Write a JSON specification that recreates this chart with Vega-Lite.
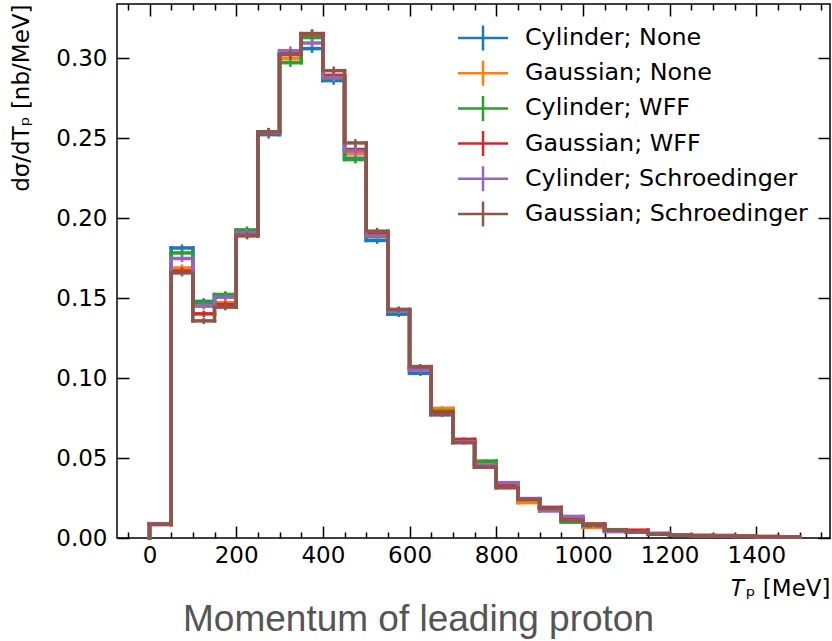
{
"$schema": "https://vega.github.io/schema/vega-lite/v6.json",
"width": 713, "height": 534,
"autosize": {"type": "none"},
"padding": {"left": 117, "top": 4, "right": 2, "bottom": 103},
"background": "white",
"config": {
 "font": "DejaVu Sans",
 "view": {"stroke": "black", "strokeWidth": 1.5},
 "axis": {"domain": false, "grid": false, "tickColor": "black", "tickWidth": 1.5, "labelColor": "black", "titleColor": "black", "labelFont": "DejaVu Sans", "titleFont": "DejaVu Sans", "labelFontSize": 23, "titleFontSize": 23, "titleFontWeight": "normal"},
 "legend": {"labelFont": "DejaVu Sans", "labelFontSize": 23.8, "labelColor": "black", "labelLimit": 0}
},
"title": {"text": "Momentum of leading proton", "orient": "bottom", "anchor": "start", "frame": "group", "dx": 66, "offset": 2, "font": "Liberation Sans", "fontSize": 37, "fontWeight": "normal", "color": "#555555"},
"data": {"values": [
{"s":"Cylinder; None","lo":0,"hi":50,"v":0.0085,"e":0.0008},
{"s":"Cylinder; None","lo":50,"hi":100,"v":0.1814,"e":0.0022},
{"s":"Cylinder; None","lo":100,"hi":150,"v":0.1480,"e":0.0020},
{"s":"Cylinder; None","lo":150,"hi":200,"v":0.1520,"e":0.0020},
{"s":"Cylinder; None","lo":200,"hi":250,"v":0.1920,"e":0.0022},
{"s":"Cylinder; None","lo":250,"hi":300,"v":0.2523,"e":0.0025},
{"s":"Cylinder; None","lo":300,"hi":350,"v":0.3025,"e":0.0027},
{"s":"Cylinder; None","lo":350,"hi":400,"v":0.3061,"e":0.0027},
{"s":"Cylinder; None","lo":400,"hi":450,"v":0.2861,"e":0.0026},
{"s":"Cylinder; None","lo":450,"hi":500,"v":0.2375,"e":0.0024},
{"s":"Cylinder; None","lo":500,"hi":550,"v":0.1861,"e":0.0021},
{"s":"Cylinder; None","lo":550,"hi":600,"v":0.1400,"e":0.0018},
{"s":"Cylinder; None","lo":600,"hi":650,"v":0.1030,"e":0.0016},
{"s":"Cylinder; None","lo":650,"hi":700,"v":0.0780,"e":0.0014},
{"s":"Cylinder; None","lo":700,"hi":750,"v":0.0605,"e":0.0012},
{"s":"Cylinder; None","lo":750,"hi":800,"v":0.0465,"e":0.0011},
{"s":"Cylinder; None","lo":800,"hi":850,"v":0.0330,"e":0.0009},
{"s":"Cylinder; None","lo":850,"hi":900,"v":0.0246,"e":0.0008},
{"s":"Cylinder; None","lo":900,"hi":950,"v":0.0190,"e":0.0007},
{"s":"Cylinder; None","lo":950,"hi":1000,"v":0.0120,"e":0.0006},
{"s":"Cylinder; None","lo":1000,"hi":1050,"v":0.0075,"e":0.0005},
{"s":"Cylinder; None","lo":1050,"hi":1100,"v":0.0050,"e":0.0004},
{"s":"Cylinder; None","lo":1100,"hi":1150,"v":0.0038,"e":0.0004},
{"s":"Cylinder; None","lo":1150,"hi":1200,"v":0.0025,"e":0.0003},
{"s":"Cylinder; None","lo":1200,"hi":1250,"v":0.0018,"e":0.0003},
{"s":"Cylinder; None","lo":1250,"hi":1300,"v":0.0015,"e":0.0002},
{"s":"Cylinder; None","lo":1300,"hi":1350,"v":0.0013,"e":0.0002},
{"s":"Cylinder; None","lo":1350,"hi":1400,"v":0.0011,"e":0.0002},
{"s":"Cylinder; None","lo":1400,"hi":1450,"v":0.0008,"e":0.0002},
{"s":"Cylinder; None","lo":1450,"hi":1500,"v":0.0006,"e":0.0001},
{"s":"Gaussian; None","lo":0,"hi":50,"v":0.0085,"e":0.0008},
{"s":"Gaussian; None","lo":50,"hi":100,"v":0.1689,"e":0.0022},
{"s":"Gaussian; None","lo":100,"hi":150,"v":0.1462,"e":0.0020},
{"s":"Gaussian; None","lo":150,"hi":200,"v":0.1472,"e":0.0020},
{"s":"Gaussian; None","lo":200,"hi":250,"v":0.1900,"e":0.0022},
{"s":"Gaussian; None","lo":250,"hi":300,"v":0.2535,"e":0.0025},
{"s":"Gaussian; None","lo":300,"hi":350,"v":0.2998,"e":0.0027},
{"s":"Gaussian; None","lo":350,"hi":400,"v":0.3135,"e":0.0027},
{"s":"Gaussian; None","lo":400,"hi":450,"v":0.2890,"e":0.0026},
{"s":"Gaussian; None","lo":450,"hi":500,"v":0.2402,"e":0.0024},
{"s":"Gaussian; None","lo":500,"hi":550,"v":0.1900,"e":0.0021},
{"s":"Gaussian; None","lo":550,"hi":600,"v":0.1425,"e":0.0018},
{"s":"Gaussian; None","lo":600,"hi":650,"v":0.1060,"e":0.0016},
{"s":"Gaussian; None","lo":650,"hi":700,"v":0.0811,"e":0.0014},
{"s":"Gaussian; None","lo":700,"hi":750,"v":0.0607,"e":0.0012},
{"s":"Gaussian; None","lo":750,"hi":800,"v":0.0460,"e":0.0011},
{"s":"Gaussian; None","lo":800,"hi":850,"v":0.0328,"e":0.0009},
{"s":"Gaussian; None","lo":850,"hi":900,"v":0.0221,"e":0.0008},
{"s":"Gaussian; None","lo":900,"hi":950,"v":0.0188,"e":0.0007},
{"s":"Gaussian; None","lo":950,"hi":1000,"v":0.0118,"e":0.0006},
{"s":"Gaussian; None","lo":1000,"hi":1050,"v":0.0066,"e":0.0005},
{"s":"Gaussian; None","lo":1050,"hi":1100,"v":0.0048,"e":0.0004},
{"s":"Gaussian; None","lo":1100,"hi":1150,"v":0.0037,"e":0.0004},
{"s":"Gaussian; None","lo":1150,"hi":1200,"v":0.0024,"e":0.0003},
{"s":"Gaussian; None","lo":1200,"hi":1250,"v":0.0020,"e":0.0003},
{"s":"Gaussian; None","lo":1250,"hi":1300,"v":0.0016,"e":0.0002},
{"s":"Gaussian; None","lo":1300,"hi":1350,"v":0.0012,"e":0.0002},
{"s":"Gaussian; None","lo":1350,"hi":1400,"v":0.0010,"e":0.0002},
{"s":"Gaussian; None","lo":1400,"hi":1450,"v":0.0008,"e":0.0002},
{"s":"Gaussian; None","lo":1450,"hi":1500,"v":0.0006,"e":0.0001},
{"s":"Cylinder; WFF","lo":0,"hi":50,"v":0.0086,"e":0.0008},
{"s":"Cylinder; WFF","lo":50,"hi":100,"v":0.1783,"e":0.0022},
{"s":"Cylinder; WFF","lo":100,"hi":150,"v":0.1472,"e":0.0020},
{"s":"Cylinder; WFF","lo":150,"hi":200,"v":0.1523,"e":0.0020},
{"s":"Cylinder; WFF","lo":200,"hi":250,"v":0.1927,"e":0.0022},
{"s":"Cylinder; WFF","lo":250,"hi":300,"v":0.2540,"e":0.0025},
{"s":"Cylinder; WFF","lo":300,"hi":350,"v":0.2973,"e":0.0027},
{"s":"Cylinder; WFF","lo":350,"hi":400,"v":0.3130,"e":0.0027},
{"s":"Cylinder; WFF","lo":400,"hi":450,"v":0.2875,"e":0.0026},
{"s":"Cylinder; WFF","lo":450,"hi":500,"v":0.2367,"e":0.0024},
{"s":"Cylinder; WFF","lo":500,"hi":550,"v":0.1885,"e":0.0021},
{"s":"Cylinder; WFF","lo":550,"hi":600,"v":0.1422,"e":0.0018},
{"s":"Cylinder; WFF","lo":600,"hi":650,"v":0.1058,"e":0.0016},
{"s":"Cylinder; WFF","lo":650,"hi":700,"v":0.0794,"e":0.0014},
{"s":"Cylinder; WFF","lo":700,"hi":750,"v":0.0603,"e":0.0012},
{"s":"Cylinder; WFF","lo":750,"hi":800,"v":0.0481,"e":0.0011},
{"s":"Cylinder; WFF","lo":800,"hi":850,"v":0.0332,"e":0.0009},
{"s":"Cylinder; WFF","lo":850,"hi":900,"v":0.0245,"e":0.0008},
{"s":"Cylinder; WFF","lo":900,"hi":950,"v":0.0189,"e":0.0007},
{"s":"Cylinder; WFF","lo":950,"hi":1000,"v":0.0099,"e":0.0006},
{"s":"Cylinder; WFF","lo":1000,"hi":1050,"v":0.0076,"e":0.0005},
{"s":"Cylinder; WFF","lo":1050,"hi":1100,"v":0.0052,"e":0.0004},
{"s":"Cylinder; WFF","lo":1100,"hi":1150,"v":0.0040,"e":0.0004},
{"s":"Cylinder; WFF","lo":1150,"hi":1200,"v":0.0026,"e":0.0003},
{"s":"Cylinder; WFF","lo":1200,"hi":1250,"v":0.0017,"e":0.0003},
{"s":"Cylinder; WFF","lo":1250,"hi":1300,"v":0.0014,"e":0.0002},
{"s":"Cylinder; WFF","lo":1300,"hi":1350,"v":0.0013,"e":0.0002},
{"s":"Cylinder; WFF","lo":1350,"hi":1400,"v":0.0011,"e":0.0002},
{"s":"Cylinder; WFF","lo":1400,"hi":1450,"v":0.0008,"e":0.0002},
{"s":"Cylinder; WFF","lo":1450,"hi":1500,"v":0.0006,"e":0.0001},
{"s":"Gaussian; WFF","lo":0,"hi":50,"v":0.0085,"e":0.0008},
{"s":"Gaussian; WFF","lo":50,"hi":100,"v":0.1670,"e":0.0022},
{"s":"Gaussian; WFF","lo":100,"hi":150,"v":0.1402,"e":0.0020},
{"s":"Gaussian; WFF","lo":150,"hi":200,"v":0.1460,"e":0.0020},
{"s":"Gaussian; WFF","lo":200,"hi":250,"v":0.1890,"e":0.0022},
{"s":"Gaussian; WFF","lo":250,"hi":300,"v":0.2535,"e":0.0025},
{"s":"Gaussian; WFF","lo":300,"hi":350,"v":0.3030,"e":0.0027},
{"s":"Gaussian; WFF","lo":350,"hi":400,"v":0.3155,"e":0.0027},
{"s":"Gaussian; WFF","lo":400,"hi":450,"v":0.2894,"e":0.0026},
{"s":"Gaussian; WFF","lo":450,"hi":500,"v":0.2430,"e":0.0024},
{"s":"Gaussian; WFF","lo":500,"hi":550,"v":0.1905,"e":0.0021},
{"s":"Gaussian; WFF","lo":550,"hi":600,"v":0.1425,"e":0.0018},
{"s":"Gaussian; WFF","lo":600,"hi":650,"v":0.1062,"e":0.0016},
{"s":"Gaussian; WFF","lo":650,"hi":700,"v":0.0785,"e":0.0014},
{"s":"Gaussian; WFF","lo":700,"hi":750,"v":0.0617,"e":0.0012},
{"s":"Gaussian; WFF","lo":750,"hi":800,"v":0.0444,"e":0.0011},
{"s":"Gaussian; WFF","lo":800,"hi":850,"v":0.0330,"e":0.0009},
{"s":"Gaussian; WFF","lo":850,"hi":900,"v":0.0246,"e":0.0008},
{"s":"Gaussian; WFF","lo":900,"hi":950,"v":0.0191,"e":0.0007},
{"s":"Gaussian; WFF","lo":950,"hi":1000,"v":0.0122,"e":0.0006},
{"s":"Gaussian; WFF","lo":1000,"hi":1050,"v":0.0088,"e":0.0005},
{"s":"Gaussian; WFF","lo":1050,"hi":1100,"v":0.0044,"e":0.0004},
{"s":"Gaussian; WFF","lo":1100,"hi":1150,"v":0.0049,"e":0.0004},
{"s":"Gaussian; WFF","lo":1150,"hi":1200,"v":0.0025,"e":0.0003},
{"s":"Gaussian; WFF","lo":1200,"hi":1250,"v":0.0018,"e":0.0003},
{"s":"Gaussian; WFF","lo":1250,"hi":1300,"v":0.0015,"e":0.0002},
{"s":"Gaussian; WFF","lo":1300,"hi":1350,"v":0.0016,"e":0.0002},
{"s":"Gaussian; WFF","lo":1350,"hi":1400,"v":0.0011,"e":0.0002},
{"s":"Gaussian; WFF","lo":1400,"hi":1450,"v":0.0010,"e":0.0002},
{"s":"Gaussian; WFF","lo":1450,"hi":1500,"v":0.0006,"e":0.0001},
{"s":"Cylinder; Schroedinger","lo":0,"hi":50,"v":0.0090,"e":0.0008},
{"s":"Cylinder; Schroedinger","lo":50,"hi":100,"v":0.1748,"e":0.0022},
{"s":"Cylinder; Schroedinger","lo":100,"hi":150,"v":0.1450,"e":0.0020},
{"s":"Cylinder; Schroedinger","lo":150,"hi":200,"v":0.1506,"e":0.0020},
{"s":"Cylinder; Schroedinger","lo":200,"hi":250,"v":0.1910,"e":0.0022},
{"s":"Cylinder; Schroedinger","lo":250,"hi":300,"v":0.2538,"e":0.0025},
{"s":"Cylinder; Schroedinger","lo":300,"hi":350,"v":0.3048,"e":0.0027},
{"s":"Cylinder; Schroedinger","lo":350,"hi":400,"v":0.3096,"e":0.0027},
{"s":"Cylinder; Schroedinger","lo":400,"hi":450,"v":0.2880,"e":0.0026},
{"s":"Cylinder; Schroedinger","lo":450,"hi":500,"v":0.2420,"e":0.0024},
{"s":"Cylinder; Schroedinger","lo":500,"hi":550,"v":0.1890,"e":0.0021},
{"s":"Cylinder; Schroedinger","lo":550,"hi":600,"v":0.1420,"e":0.0018},
{"s":"Cylinder; Schroedinger","lo":600,"hi":650,"v":0.1050,"e":0.0016},
{"s":"Cylinder; Schroedinger","lo":650,"hi":700,"v":0.0770,"e":0.0014},
{"s":"Cylinder; Schroedinger","lo":700,"hi":750,"v":0.0602,"e":0.0012},
{"s":"Cylinder; Schroedinger","lo":750,"hi":800,"v":0.0455,"e":0.0011},
{"s":"Cylinder; Schroedinger","lo":800,"hi":850,"v":0.0346,"e":0.0009},
{"s":"Cylinder; Schroedinger","lo":850,"hi":900,"v":0.0244,"e":0.0008},
{"s":"Cylinder; Schroedinger","lo":900,"hi":950,"v":0.0169,"e":0.0007},
{"s":"Cylinder; Schroedinger","lo":950,"hi":1000,"v":0.0135,"e":0.0006},
{"s":"Cylinder; Schroedinger","lo":1000,"hi":1050,"v":0.0078,"e":0.0005},
{"s":"Cylinder; Schroedinger","lo":1050,"hi":1100,"v":0.0040,"e":0.0004},
{"s":"Cylinder; Schroedinger","lo":1100,"hi":1150,"v":0.0036,"e":0.0004},
{"s":"Cylinder; Schroedinger","lo":1150,"hi":1200,"v":0.0030,"e":0.0003},
{"s":"Cylinder; Schroedinger","lo":1200,"hi":1250,"v":0.0017,"e":0.0003},
{"s":"Cylinder; Schroedinger","lo":1250,"hi":1300,"v":0.0015,"e":0.0002},
{"s":"Cylinder; Schroedinger","lo":1300,"hi":1350,"v":0.0012,"e":0.0002},
{"s":"Cylinder; Schroedinger","lo":1350,"hi":1400,"v":0.0010,"e":0.0002},
{"s":"Cylinder; Schroedinger","lo":1400,"hi":1450,"v":0.0008,"e":0.0002},
{"s":"Cylinder; Schroedinger","lo":1450,"hi":1500,"v":0.0006,"e":0.0001},
{"s":"Gaussian; Schroedinger","lo":0,"hi":50,"v":0.0086,"e":0.0008},
{"s":"Gaussian; Schroedinger","lo":50,"hi":100,"v":0.1658,"e":0.0022},
{"s":"Gaussian; Schroedinger","lo":100,"hi":150,"v":0.1358,"e":0.0020},
{"s":"Gaussian; Schroedinger","lo":150,"hi":200,"v":0.1444,"e":0.0020},
{"s":"Gaussian; Schroedinger","lo":200,"hi":250,"v":0.1893,"e":0.0022},
{"s":"Gaussian; Schroedinger","lo":250,"hi":300,"v":0.2540,"e":0.0025},
{"s":"Gaussian; Schroedinger","lo":300,"hi":350,"v":0.3023,"e":0.0027},
{"s":"Gaussian; Schroedinger","lo":350,"hi":400,"v":0.3152,"e":0.0027},
{"s":"Gaussian; Schroedinger","lo":400,"hi":450,"v":0.2923,"e":0.0026},
{"s":"Gaussian; Schroedinger","lo":450,"hi":500,"v":0.2471,"e":0.0024},
{"s":"Gaussian; Schroedinger","lo":500,"hi":550,"v":0.1919,"e":0.0021},
{"s":"Gaussian; Schroedinger","lo":550,"hi":600,"v":0.1430,"e":0.0018},
{"s":"Gaussian; Schroedinger","lo":600,"hi":650,"v":0.1072,"e":0.0016},
{"s":"Gaussian; Schroedinger","lo":650,"hi":700,"v":0.0773,"e":0.0014},
{"s":"Gaussian; Schroedinger","lo":700,"hi":750,"v":0.0596,"e":0.0012},
{"s":"Gaussian; Schroedinger","lo":750,"hi":800,"v":0.0444,"e":0.0011},
{"s":"Gaussian; Schroedinger","lo":800,"hi":850,"v":0.0314,"e":0.0009},
{"s":"Gaussian; Schroedinger","lo":850,"hi":900,"v":0.0240,"e":0.0008},
{"s":"Gaussian; Schroedinger","lo":900,"hi":950,"v":0.0185,"e":0.0007},
{"s":"Gaussian; Schroedinger","lo":950,"hi":1000,"v":0.0110,"e":0.0006},
{"s":"Gaussian; Schroedinger","lo":1000,"hi":1050,"v":0.0080,"e":0.0005},
{"s":"Gaussian; Schroedinger","lo":1050,"hi":1100,"v":0.0050,"e":0.0004},
{"s":"Gaussian; Schroedinger","lo":1100,"hi":1150,"v":0.0038,"e":0.0004},
{"s":"Gaussian; Schroedinger","lo":1150,"hi":1200,"v":0.0024,"e":0.0003},
{"s":"Gaussian; Schroedinger","lo":1200,"hi":1250,"v":0.0018,"e":0.0003},
{"s":"Gaussian; Schroedinger","lo":1250,"hi":1300,"v":0.0014,"e":0.0002},
{"s":"Gaussian; Schroedinger","lo":1300,"hi":1350,"v":0.0012,"e":0.0002},
{"s":"Gaussian; Schroedinger","lo":1350,"hi":1400,"v":0.0011,"e":0.0002},
{"s":"Gaussian; Schroedinger","lo":1400,"hi":1450,"v":0.0008,"e":0.0002},
{"s":"Gaussian; Schroedinger","lo":1450,"hi":1500,"v":0.0006,"e":0.0001}
]},
"transform": [
 {"calculate": "(datum.lo + datum.hi) / 2", "as": "c"},
 {"calculate": "datum.v - datum.e", "as": "elo"},
 {"calculate": "datum.v + datum.e", "as": "ehi"},
 {"window": [{"op": "lead", "field": "v", "as": "nx"}], "groupby": ["s"], "sort": [{"field": "lo", "order": "ascending"}]}
],
"encoding": {
 "color": {"field": "s", "type": "nominal",
  "scale": {"domain": ["Cylinder; None", "Gaussian; None", "Cylinder; WFF", "Gaussian; WFF", "Cylinder; Schroedinger", "Gaussian; Schroedinger"],
            "range": ["#1f77b4", "#ff7f0e", "#2ca02c", "#d62728", "#9467bd", "#8c564b"]},
  "legend": {"title": null, "orient": "none", "legendX": 352, "legendY": 20, "padding": 0, "symbolType": "M-2,0H2M0,-1V1", "symbolSize": 625, "symbolStrokeWidth": 2.5, "rowPadding": -0.8, "labelOffset": 28}
 }
},
"layer": [
 {"mark": {"type": "rule", "strokeWidth": 3.5, "strokeCap": "square"},
  "encoding": {
   "x": {"field": "lo", "type": "quantitative", "scale": {"domain": [-75, 1570], "nice": false, "zero": false},
         "axis": {"orient": "bottom", "values": [0, 200, 400, 600, 800, 1000, 1200, 1400], "format": "d", "tickSize": -12, "labelPadding": 18, "title": "𝑇ₚ [MeV]", "titleAnchor": "end", "titlePadding": 10}},
   "x2": {"field": "hi"},
   "y": {"field": "v", "type": "quantitative", "scale": {"domain": [0, 0.334], "nice": false, "zero": false},
         "axis": {"orient": "left", "values": [0, 0.05, 0.1, 0.15, 0.2, 0.25, 0.3], "format": ".2f", "tickSize": -12, "labelPadding": 22, "title": "dσ/dTₚ [nb/MeV]", "titleAnchor": "end", "titlePadding": 22}}
  }},
 {"mark": {"type": "rule", "strokeWidth": 3.5, "strokeCap": "square"},
  "encoding": {
   "x": {"field": "hi", "type": "quantitative",
         "axis": {"orient": "bottom", "values": [-50, 50, 100, 150, 250, 300, 350, 450, 500, 550, 650, 700, 750, 850, 900, 950, 1050, 1100, 1150, 1250, 1300, 1350, 1450, 1500, 1550], "tickSize": -6, "labels": false, "title": null}},
   "y": {"field": "v", "type": "quantitative",
         "axis": {"orient": "right", "values": [0, 0.05, 0.1, 0.15, 0.2, 0.25, 0.3], "tickSize": -12, "labels": false, "title": null}},
   "y2": {"field": "nx"}
  }},
 {"transform": [{"filter": "datum.lo == 0"}],
  "mark": {"type": "rule", "strokeWidth": 3.5, "strokeCap": "square"},
  "encoding": {
   "x": {"field": "lo", "type": "quantitative",
         "axis": {"orient": "top", "values": [0, 200, 400, 600, 800, 1000, 1200, 1400], "tickSize": -12, "labels": false, "title": null}},
   "y": {"field": "v", "type": "quantitative", "axis": null},
   "y2": {"datum": 0}
  }},
 {"mark": {"type": "rule", "strokeWidth": 2.5},
  "encoding": {
   "x": {"field": "c", "type": "quantitative",
         "axis": {"orient": "top", "values": [-50, 50, 100, 150, 250, 300, 350, 450, 500, 550, 650, 700, 750, 850, 900, 950, 1050, 1100, 1150, 1250, 1300, 1350, 1450, 1500, 1550], "tickSize": -6, "labels": false, "title": null}},
   "y": {"field": "elo", "type": "quantitative", "axis": null},
   "y2": {"field": "ehi"}
  }}
],
"resolve": {"axis": {"x": "independent", "y": "independent"}}
}
